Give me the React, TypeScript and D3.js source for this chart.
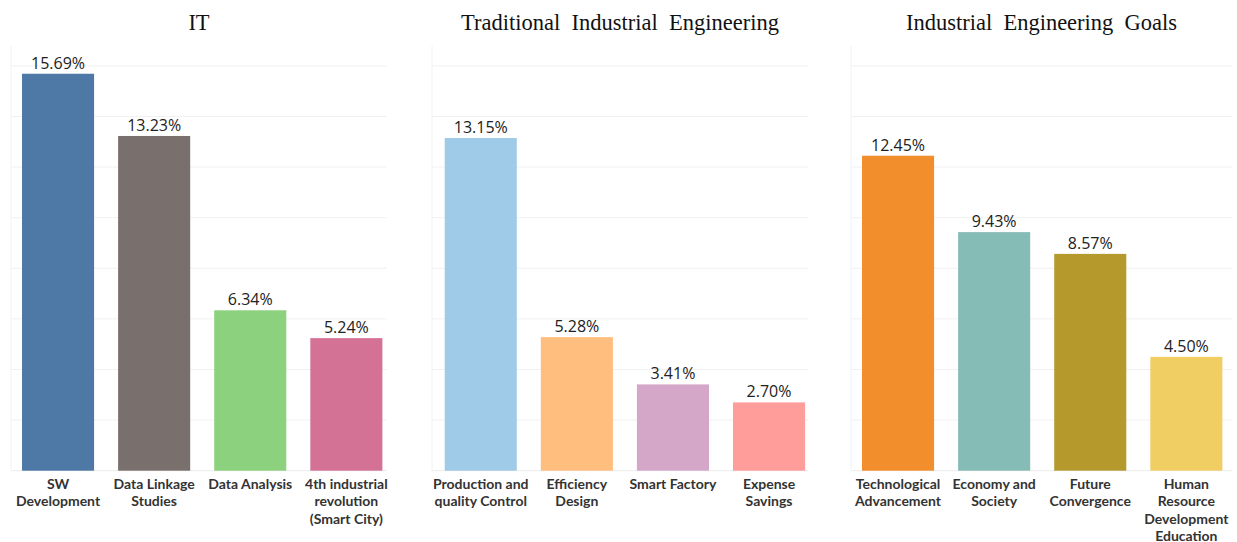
import React from "react";
import * as d3 from "d3";

const panelTitles = ["IT", "Traditional  Industrial  Engineering", "Industrial  Engineering  Goals"];

const itCategories = [["SW", "Development"], ["Data Linkage", "Studies"], ["Data Analysis"], ["4th industrial", "revolution", "(Smart City)"]];
const itValues = [15.69, 13.23, 6.34, 5.24];
const itColors = ["#4E79A7", "#79706E", "#8CD17D", "#D37295"];

const tieCategories = [["Production and", "quality Control"], ["Efficiency", "Design"], ["Smart Factory"], ["Expense", "Savings"]];
const tieValues = [13.15, 5.28, 3.41, 2.7];
const tieColors = ["#A0CBE8", "#FFBE7D", "#D4A6C8", "#FF9D9A"];

const goalCategories = [["Technological", "Advancement"], ["Economy and", "Society"], ["Future", "Convergence"], ["Human", "Resource", "Development", "Education"]];
const goalValues = [12.45, 9.43, 8.57, 4.5];
const goalColors = ["#F28E2B", "#86BCB6", "#B6992D", "#F1CE63"];

const gridTicks = [0, 2, 4, 6, 8, 10, 12, 14, 16];

const W = 1237;
const H = 542;
const BASE_Y = 470.7;
const TOP_Y = 65.9;

const panels = [
  { title: panelTitles[0], cats: itCategories, vals: itValues, colors: itColors, gx0: 11, gx1: 387, bx0: 10 },
  { title: panelTitles[1], cats: tieCategories, vals: tieValues, colors: tieColors, gx0: 432, gx1: 808, bx0: 432.7 },
  { title: panelTitles[2], cats: goalCategories, vals: goalValues, colors: goalColors, gx0: 851, gx1: 1232, bx0: 850 },
];

const y = d3.scaleLinear().domain([0, 16]).range([BASE_Y, TOP_Y]);

const labelFont = "Lato, 'Open Sans', sans-serif";

function Panel({ p }: { p: (typeof panels)[number] }) {
  const keys = p.cats.map((c) => c.join(" "));
  const x = d3
    .scaleBand<string>()
    .domain(keys)
    .range([p.bx0, p.bx0 + 4 * 96.1])
    .paddingInner(0.25)
    .paddingOuter(0.125);
  const cx = (p.gx0 + p.gx1) / 2;
  return (
    <g>
      <text
        x={cx}
        y={30}
        textAnchor="middle"
        fontFamily="'Liberation Serif', 'Times New Roman', serif"
        fontSize={22.5}
        fill="#111"
        style={{ whiteSpace: "pre" }}
      >
        {p.title}
      </text>
      <line x1={p.gx0} x2={p.gx0} y1={46} y2={BASE_Y} stroke="#f2f2f2" strokeWidth={1} />
      {gridTicks.map((t) => (
        <line key={t} x1={p.gx0} x2={p.gx1} y1={y(t)} y2={y(t)} stroke={t === 0 ? "#ececec" : "#f1f1f1"} strokeWidth={1} />
      ))}
      {p.vals.map((v, i) => {
        const k = keys[i];
        const bx = x(k)!;
        const bw = x.bandwidth();
        return (
          <g key={k}>
            <rect x={bx} y={y(v)} width={bw} height={y(0) - y(v)} fill={p.colors[i]} />
            <text
              x={bx + bw / 2}
              y={y(v) - 5}
              textAnchor="middle"
              fontFamily="'Open Sans', sans-serif"
              fontSize={16}
              fill="#222"
            >
              {v.toFixed(2) + "%"}
            </text>
            {p.cats[i].map((line, j) => (
              <text
                key={j}
                x={bx + bw / 2}
                y={488.8 + j * 17.5}
                textAnchor="middle"
                fontFamily={labelFont}
                fontWeight={700}
                fontSize={14}
                fill="#333"
              >
                {line}
              </text>
            ))}
          </g>
        );
      })}
    </g>
  );
}

export default function App() {
  return (
    <div>
      <style>{`body{margin:0}`}</style>
      <svg width={W} height={H} style={{ display: "block", background: "#fff" }}>
        <rect x={0} y={0} width={W} height={H} fill="#fff" />
        {panels.map((p) => (
          <Panel key={p.title} p={p} />
        ))}
      </svg>
    </div>
  );
}
